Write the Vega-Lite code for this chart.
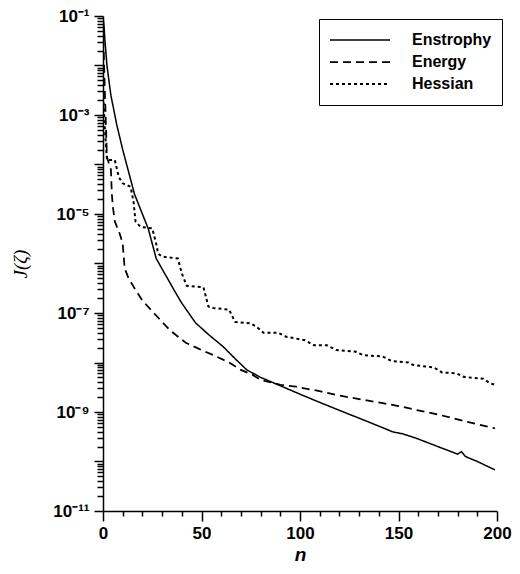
{
  "$schema": "https://vega.github.io/schema/vega-lite/v6.json",
  "width": 394,
  "height": 495,
  "autosize": {"type": "none"},
  "padding": {"left": 103, "top": 16, "right": 23, "bottom": 63},
  "background": "white",
  "config": {
    "view": {"stroke": null},
    "axis": {"grid": false, "ticks": true, "domainColor": "#000000", "tickColor": "#000000", "tickOpacity": 1, "domainWidth": 1.5, "tickWidth": 1.5, "labelColor": "black", "titleColor": "black"},
    "legend": {"labelFont": "Liberation Sans", "labelFontWeight": "bold", "labelFontSize": 16, "labelColor": "black"}
  },
  "data": {"values": [
    {"n": 0, "J": 9.5e-2, "series": "Enstrophy"},
    {"n": 0.5, "J": 6.31e-2, "series": "Enstrophy"},
    {"n": 1, "J": 3.16e-2, "series": "Enstrophy"},
    {"n": 2, "J": 1.0e-2, "series": "Enstrophy"},
    {"n": 4, "J": 2.51e-3, "series": "Enstrophy"},
    {"n": 7, "J": 6.31e-4, "series": "Enstrophy"},
    {"n": 10, "J": 2.0e-4, "series": "Enstrophy"},
    {"n": 12, "J": 1.0e-4, "series": "Enstrophy"},
    {"n": 16, "J": 2.51e-5, "series": "Enstrophy"},
    {"n": 20, "J": 1.0e-5, "series": "Enstrophy"},
    {"n": 23, "J": 5.01e-6, "series": "Enstrophy"},
    {"n": 27, "J": 1.26e-6, "series": "Enstrophy"},
    {"n": 32, "J": 5.62e-7, "series": "Enstrophy"},
    {"n": 37, "J": 2.51e-7, "series": "Enstrophy"},
    {"n": 40, "J": 1.58e-7, "series": "Enstrophy"},
    {"n": 47, "J": 6.31e-8, "series": "Enstrophy"},
    {"n": 54, "J": 3.55e-8, "series": "Enstrophy"},
    {"n": 61, "J": 2.09e-8, "series": "Enstrophy"},
    {"n": 67, "J": 1.20e-8, "series": "Enstrophy"},
    {"n": 73, "J": 7.08e-9, "series": "Enstrophy"},
    {"n": 80, "J": 5.01e-9, "series": "Enstrophy"},
    {"n": 90, "J": 3.39e-9, "series": "Enstrophy"},
    {"n": 100, "J": 2.29e-9, "series": "Enstrophy"},
    {"n": 112, "J": 1.45e-9, "series": "Enstrophy"},
    {"n": 124, "J": 9.33e-10, "series": "Enstrophy"},
    {"n": 136, "J": 6.03e-10, "series": "Enstrophy"},
    {"n": 147, "J": 3.98e-10, "series": "Enstrophy"},
    {"n": 152, "J": 3.63e-10, "series": "Enstrophy"},
    {"n": 159, "J": 2.95e-10, "series": "Enstrophy"},
    {"n": 170, "J": 2.0e-10, "series": "Enstrophy"},
    {"n": 180, "J": 1.41e-10, "series": "Enstrophy"},
    {"n": 182, "J": 1.58e-10, "series": "Enstrophy"},
    {"n": 184, "J": 1.26e-10, "series": "Enstrophy"},
    {"n": 190, "J": 1.0e-10, "series": "Enstrophy"},
    {"n": 199, "J": 6.76e-11, "series": "Enstrophy"},
    {"n": 0, "J": 6.31e-2, "series": "Energy"},
    {"n": 1, "J": 2.51e-3, "series": "Energy"},
    {"n": 2, "J": 1.41e-4, "series": "Energy"},
    {"n": 3, "J": 1.05e-4, "series": "Energy"},
    {"n": 4, "J": 7.94e-5, "series": "Energy"},
    {"n": 4.5, "J": 2.51e-5, "series": "Energy"},
    {"n": 5, "J": 1.41e-5, "series": "Energy"},
    {"n": 6, "J": 7.08e-6, "series": "Energy"},
    {"n": 8.5, "J": 3.98e-6, "series": "Energy"},
    {"n": 10, "J": 2.51e-6, "series": "Energy"},
    {"n": 11, "J": 7.94e-7, "series": "Energy"},
    {"n": 13, "J": 5.01e-7, "series": "Energy"},
    {"n": 16, "J": 3.16e-7, "series": "Energy"},
    {"n": 20, "J": 1.78e-7, "series": "Energy"},
    {"n": 27, "J": 8.91e-8, "series": "Energy"},
    {"n": 34, "J": 4.47e-8, "series": "Energy"},
    {"n": 42, "J": 2.51e-8, "series": "Energy"},
    {"n": 50, "J": 1.78e-8, "series": "Energy"},
    {"n": 56, "J": 1.41e-8, "series": "Energy"},
    {"n": 64, "J": 1.0e-8, "series": "Energy"},
    {"n": 70, "J": 7.08e-9, "series": "Energy"},
    {"n": 76, "J": 5.62e-9, "series": "Energy"},
    {"n": 80, "J": 4.47e-9, "series": "Energy"},
    {"n": 90, "J": 3.55e-9, "series": "Energy"},
    {"n": 98, "J": 3.24e-9, "series": "Energy"},
    {"n": 110, "J": 2.63e-9, "series": "Energy"},
    {"n": 119, "J": 2.19e-9, "series": "Energy"},
    {"n": 130, "J": 1.82e-9, "series": "Energy"},
    {"n": 142, "J": 1.51e-9, "series": "Energy"},
    {"n": 150, "J": 1.32e-9, "series": "Energy"},
    {"n": 159, "J": 1.10e-9, "series": "Energy"},
    {"n": 171, "J": 8.71e-10, "series": "Energy"},
    {"n": 185, "J": 6.31e-10, "series": "Energy"},
    {"n": 199, "J": 4.68e-10, "series": "Energy"},
    {"n": 0, "J": 3.16e-3, "series": "Hessian"},
    {"n": 1, "J": 5.01e-4, "series": "Hessian"},
    {"n": 2, "J": 1.23e-4, "series": "Hessian"},
    {"n": 6, "J": 1.23e-4, "series": "Hessian"},
    {"n": 8, "J": 5.62e-5, "series": "Hessian"},
    {"n": 10, "J": 4.17e-5, "series": "Hessian"},
    {"n": 14, "J": 3.55e-5, "series": "Hessian"},
    {"n": 15.5, "J": 1.78e-5, "series": "Hessian"},
    {"n": 16.5, "J": 7.08e-6, "series": "Hessian"},
    {"n": 19, "J": 5.50e-6, "series": "Hessian"},
    {"n": 25, "J": 5.13e-6, "series": "Hessian"},
    {"n": 27, "J": 2.51e-6, "series": "Hessian"},
    {"n": 28, "J": 1.58e-6, "series": "Hessian"},
    {"n": 30, "J": 1.38e-6, "series": "Hessian"},
    {"n": 38, "J": 1.26e-6, "series": "Hessian"},
    {"n": 40, "J": 6.31e-7, "series": "Hessian"},
    {"n": 42.5, "J": 3.55e-7, "series": "Hessian"},
    {"n": 51, "J": 3.31e-7, "series": "Hessian"},
    {"n": 53.5, "J": 1.35e-7, "series": "Hessian"},
    {"n": 56, "J": 1.26e-7, "series": "Hessian"},
    {"n": 64, "J": 1.17e-7, "series": "Hessian"},
    {"n": 67, "J": 6.61e-8, "series": "Hessian"},
    {"n": 75, "J": 6.17e-8, "series": "Hessian"},
    {"n": 78, "J": 5.25e-8, "series": "Hessian"},
    {"n": 81.5, "J": 3.98e-8, "series": "Hessian"},
    {"n": 89, "J": 3.98e-8, "series": "Hessian"},
    {"n": 93, "J": 3.31e-8, "series": "Hessian"},
    {"n": 102.5, "J": 2.82e-8, "series": "Hessian"},
    {"n": 107, "J": 2.24e-8, "series": "Hessian"},
    {"n": 113.5, "J": 2.24e-8, "series": "Hessian"},
    {"n": 118.5, "J": 1.78e-8, "series": "Hessian"},
    {"n": 128, "J": 1.66e-8, "series": "Hessian"},
    {"n": 132, "J": 1.41e-8, "series": "Hessian"},
    {"n": 142, "J": 1.32e-8, "series": "Hessian"},
    {"n": 146.5, "J": 1.07e-8, "series": "Hessian"},
    {"n": 155, "J": 1.0e-8, "series": "Hessian"},
    {"n": 157.5, "J": 8.91e-9, "series": "Hessian"},
    {"n": 168, "J": 7.94e-9, "series": "Hessian"},
    {"n": 172, "J": 6.31e-9, "series": "Hessian"},
    {"n": 179.5, "J": 6.03e-9, "series": "Hessian"},
    {"n": 183, "J": 5.13e-9, "series": "Hessian"},
    {"n": 193, "J": 4.68e-9, "series": "Hessian"},
    {"n": 196.5, "J": 3.80e-9, "series": "Hessian"},
    {"n": 199, "J": 3.55e-9, "series": "Hessian"}
  ]},
  "layer": [
    {
      "mark": {"type": "line", "color": "black", "clip": true},
      "encoding": {
        "x": {
          "field": "n", "type": "quantitative",
          "scale": {"domain": [0, 200], "nice": false},
          "axis": {
            "orient": "bottom",
            "title": "n", "titleFont": "Liberation Sans", "titleFontStyle": "italic", "titleFontWeight": "bold", "titleFontSize": 19, "titlePadding": 4,
            "values": [0, 50, 100, 150, 200],
            "labelFont": "Liberation Sans", "labelFontWeight": "bold", "labelFontSize": 17, "labelPadding": 4,
            "labelFlush": false, "labelOverlap": false, "ticks": true, "tickSize": 10
          }
        },
        "y": {
          "field": "J", "type": "quantitative",
          "scale": {"type": "log", "domain": [1e-11, 1e-1], "nice": false},
          "axis": {
            "orient": "left",
            "title": "J(ζ)", "titleFont": "Liberation Serif", "titleFontStyle": "italic", "titleFontSize": 19, "titleFontWeight": "normal", "titlePadding": 22,
            "values": [1e-11, 1e-10, 1e-9, 1e-8, 1e-7, 1e-6, 1e-5, 1e-4, 1e-3, 1e-2, 1e-1],
            "labelExpr": "datum.value == 1e-1 ? '10⁻¹' : datum.value == 1e-3 ? '10⁻³' : datum.value == 1e-5 ? '10⁻⁵' : datum.value == 1e-7 ? '10⁻⁷' : datum.value == 1e-9 ? '10⁻⁹' : datum.value == 1e-11 ? '10⁻¹¹' : ''",
            "labelFont": "Liberation Sans", "labelFontWeight": "bold", "labelFontSize": 17, "labelPadding": 5,
            "labelFlush": false, "labelOverlap": false, "labelBaseline": "middle", "ticks": true, "tickSize": 9
          }
        },
        "strokeDash": {
          "field": "series", "type": "nominal",
          "scale": {"domain": ["Enstrophy", "Energy", "Hessian"], "range": [[1, 0], [8, 5], [3, 3]]},
          "legend": {
            "title": null, "orient": "none", "legendX": 216, "legendY": 3,
            "strokeColor": "black", "padding": 10, "symbolType": "stroke", "symbolSize": 3600,
            "symbolStrokeColor": "black", "labelOffset": 21, "rowPadding": 0, "clipHeight": 22
          }
        },
        "strokeWidth": {
          "field": "series", "type": "nominal",
          "scale": {"domain": ["Enstrophy", "Energy", "Hessian"], "range": [1.5, 2, 3]},
          "legend": {
            "title": null, "orient": "none", "legendX": 216, "legendY": 3,
            "strokeColor": "black", "padding": 10, "symbolType": "stroke", "symbolSize": 3600,
            "symbolStrokeColor": "black", "labelOffset": 21, "rowPadding": 0, "clipHeight": 22
          }
        }
      }
    },
    {
      "mark": {"type": "line", "color": "black", "opacity": 0, "clip": true},
      "encoding": {
        "x": {
          "field": "n", "type": "quantitative",
          "axis": {
            "orient": "bottom", "title": null, "domain": false, "labels": false, "ticks": true, "tickSize": 5,
            "values": [10, 20, 30, 40, 60, 70, 80, 90, 110, 120, 130, 140, 160, 170, 180, 190]
          }
        },
        "y": {
          "field": "J", "type": "quantitative",
          "axis": {
            "orient": "left", "title": null, "domain": false, "labels": false, "ticks": true, "tickSize": 6,
            "values": [2e-11,3e-11,4e-11,5e-11,6e-11,7e-11,8e-11,9e-11,
                       2e-10,3e-10,4e-10,5e-10,6e-10,7e-10,8e-10,9e-10,
                       2e-9,3e-9,4e-9,5e-9,6e-9,7e-9,8e-9,9e-9,
                       2e-8,3e-8,4e-8,5e-8,6e-8,7e-8,8e-8,9e-8,
                       2e-7,3e-7,4e-7,5e-7,6e-7,7e-7,8e-7,9e-7,
                       2e-6,3e-6,4e-6,5e-6,6e-6,7e-6,8e-6,9e-6,
                       2e-5,3e-5,4e-5,5e-5,6e-5,7e-5,8e-5,9e-5,
                       2e-4,3e-4,4e-4,5e-4,6e-4,7e-4,8e-4,9e-4,
                       2e-3,3e-3,4e-3,5e-3,6e-3,7e-3,8e-3,9e-3,
                       2e-2,3e-2,4e-2,5e-2,6e-2,7e-2,8e-2,9e-2]
          }
        },
        "detail": {"field": "series", "type": "nominal"}
      }
    }
  ],
  "resolve": {"axis": {"x": "independent", "y": "independent"}}
}
